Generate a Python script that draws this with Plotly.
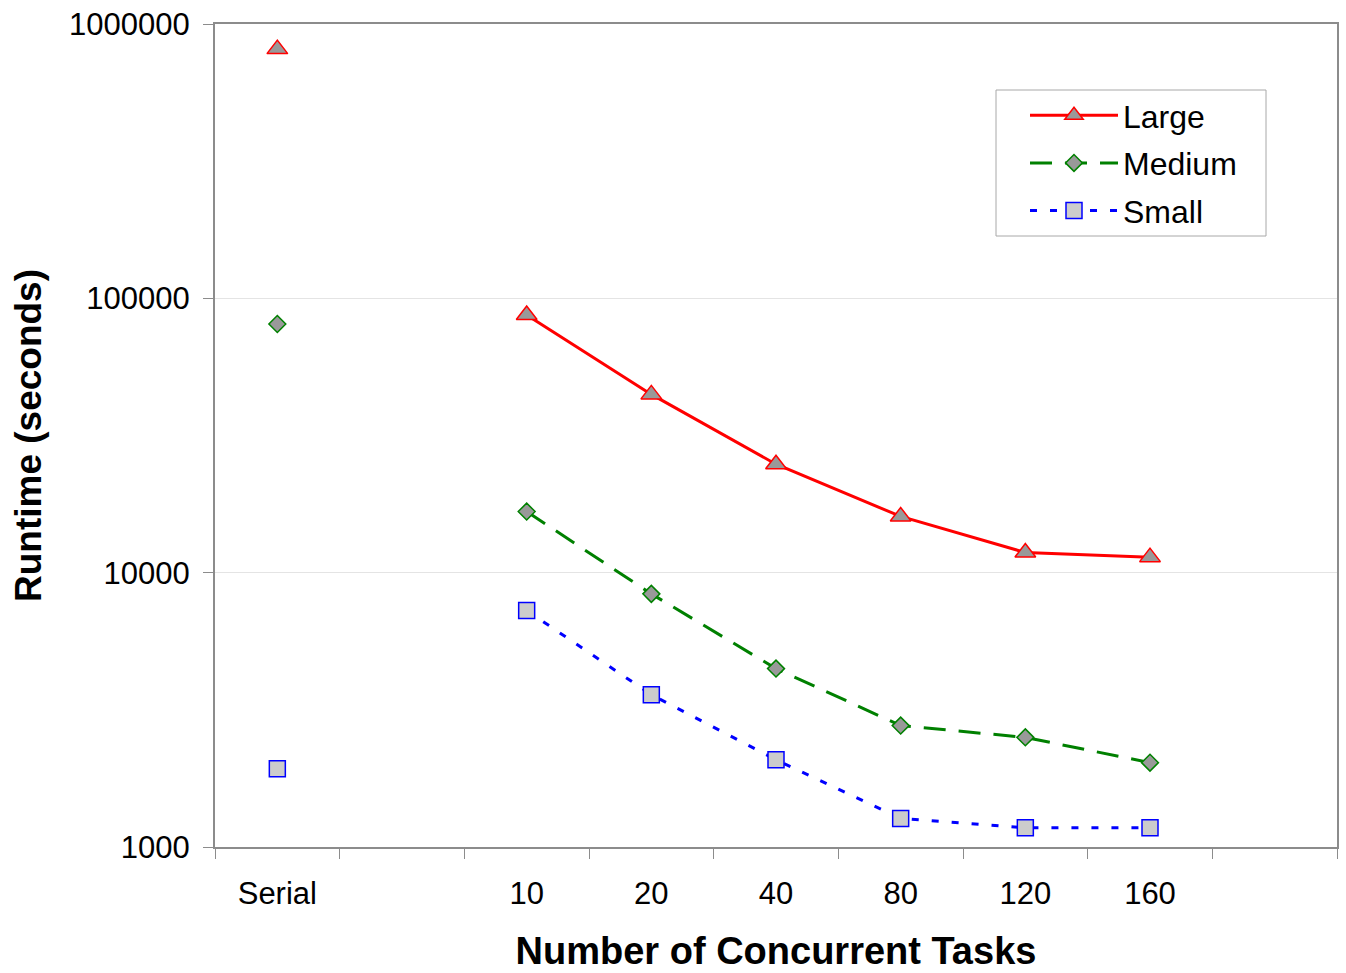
import plotly.graph_objects as go

# Category axis: the blank entries reserve empty slots like the original layout
categories = ["Serial", " ", "10", "20", "40", "80", "120", "160", "  "]
x_points = ["Serial", " ", "10", "20", "40", "80", "120", "160"]

# Runtime in seconds for each problem size
large = [810000, None, 87000, 44650, 24850, 16030, 11840, 11390]
medium = [80600, None, 16700, 8370, 4470, 2770, 2510, 2030]
small = [1930, None, 7280, 3590, 2080, 1270, 1175, 1175]

y_ticks = [1000, 10000, 100000, 1000000]
y_tick_labels = ["1000", "10000", "100000", "1000000"]

FONT = "Liberation Sans, Arial, sans-serif"
AXIS_GRAY = "#8c8c8c"

# plot-area geometry in pixels (used to place the legend frame)
PLOT_L, PLOT_R, PLOT_T, PLOT_B = 215, 1337, 24, 847


def px_to_paper_x(px):
    return (px - PLOT_L) / (PLOT_R - PLOT_L)


def px_to_paper_y(py):
    return (PLOT_B - py) / (PLOT_B - PLOT_T)


fig = go.Figure()

fig.add_trace(go.Scatter(
    x=x_points, y=large, name="Large", mode="lines+markers",
    connectgaps=False, legendgroup="large",
    line=dict(color="#ff0000", width=3),
    marker=dict(symbol="triangle-up", size=18, color="#999999",
                line=dict(color="#ff0000", width=1.5)),
))
fig.add_trace(go.Scatter(
    x=x_points, y=medium, name="Medium", mode="lines+markers",
    connectgaps=False, legendgroup="medium",
    line=dict(color="#008000", width=3, dash="22px,13px"),
    marker=dict(symbol="diamond", size=13, color="#999999",
                line=dict(color="#008000", width=1.5)),
))
fig.add_trace(go.Scatter(
    x=x_points, y=small, name="Small", mode="lines+markers",
    connectgaps=False, legendgroup="small",
    line=dict(color="#0000ff", width=3, dash="7px,13px"),
    marker=dict(symbol="square", size=16, color="#cccccc",
                line=dict(color="#0000ff", width=1.5)),
))

# legend frame
fig.add_shape(
    type="rect", xref="paper", yref="paper",
    x0=px_to_paper_x(996), x1=px_to_paper_x(1266),
    y0=px_to_paper_y(236), y1=px_to_paper_y(90),
    line=dict(color="#a8a8a8", width=1), fillcolor="rgba(0,0,0,0)",
)

fig.update_layout(
    width=1346, height=973,
    margin=dict(l=PLOT_L, r=1346 - PLOT_R, t=PLOT_T, b=973 - PLOT_B,
                autoexpand=False),
    paper_bgcolor="white", plot_bgcolor="white",
    font=dict(family=FONT, size=31, color="black"),
    showlegend=True,
    legend=dict(
        x=px_to_paper_x(1025), y=px_to_paper_y(88),
        xanchor="left", yanchor="top",
        borderwidth=0, bgcolor="rgba(0,0,0,0)",
        font=dict(family=FONT, size=32),
        itemwidth=88, tracegroupgap=3,
    ),
    xaxis=dict(
        type="category", categoryorder="array", categoryarray=categories,
        range=[-0.5, 8.5], tickson="boundaries",
        ticks="outside", ticklen=10, tickcolor=AXIS_GRAY, tickwidth=1,
        showline=True, linecolor=AXIS_GRAY, linewidth=2, mirror=True,
        showgrid=False, zeroline=False, automargin=False,
        tickfont=dict(family=FONT, size=31),
        ticklabelstandoff=18,
        title=dict(text="<b>Number of Concurrent Tasks</b>",
                   font=dict(family=FONT, size=38), standoff=27),
    ),
    yaxis=dict(
        type="log", range=[3, 6],
        tickmode="array", tickvals=y_ticks, ticktext=y_tick_labels,
        ticks="outside", ticklen=10, tickcolor=AXIS_GRAY, tickwidth=1,
        showline=True, linecolor=AXIS_GRAY, linewidth=2, mirror=True,
        showgrid=True, gridcolor="#e4e4e4", gridwidth=1,
        zeroline=False, automargin=False,
        tickfont=dict(family=FONT, size=31),
        ticklabelstandoff=7,
        title=dict(text="<b>Runtime (seconds)</b>",
                   font=dict(family=FONT, size=37), standoff=16),
    ),
)

fig.write_html("out.html")
